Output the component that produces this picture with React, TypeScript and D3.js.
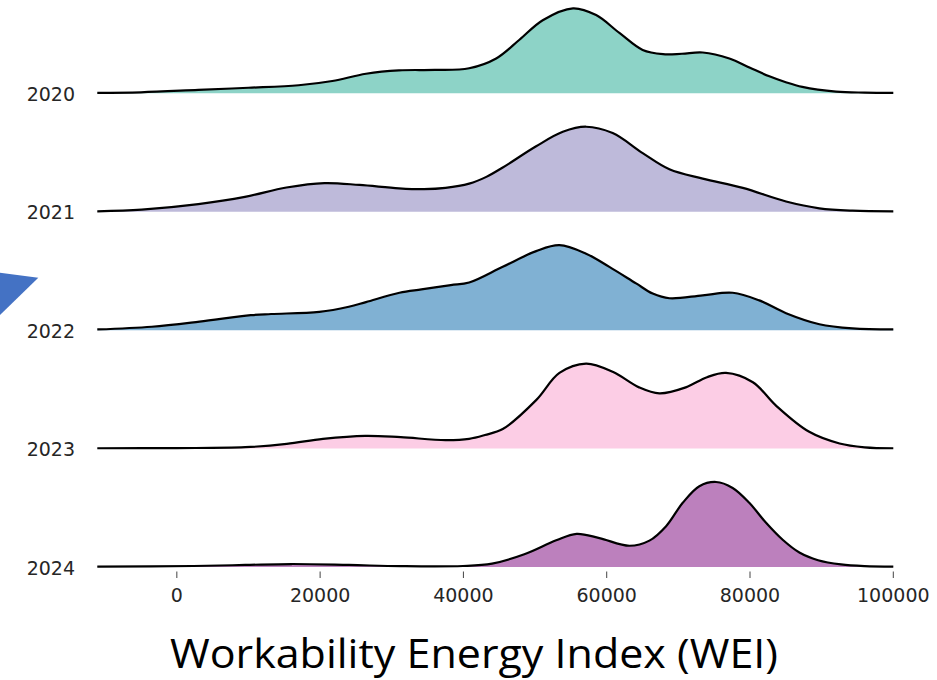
import React from "react";
import * as d3 from "d3";

const years = ["2020", "2021", "2022", "2023", "2024"];
const colors = ["#8dd3c7", "#bebada", "#80b1d3", "#fccde5", "#bc80bd"];
const xTicks = [0, 20000, 40000, 60000, 80000, 100000];
const xDomain = [-11100, 100000];
const axisTitle = "Workability Energy Index  (WEI)";

// [WEI value, relative density]
const d2020: [number, number][] = [
  [-11100, 0.005], [-5000, 0.012], [3000, 0.04], [10000, 0.065], [17000, 0.095],
  [21700, 0.145], [26400, 0.23], [31000, 0.27], [36000, 0.275], [40800, 0.295],
  [44570, 0.41], [47820, 0.63], [51070, 0.86], [55300, 1.0], [58520, 0.92],
  [61770, 0.71], [65020, 0.51], [67860, 0.46], [70500, 0.465], [73400, 0.48],
  [77120, 0.41], [80000, 0.3], [82700, 0.2], [85000, 0.13], [87300, 0.075],
  [92000, 0.02], [96000, 0.008], [100000, 0.005],
];
const d2021: [number, number][] = [
  [-11100, 0.005], [-4900, 0.025], [3000, 0.09], [9500, 0.175], [15300, 0.285],
  [20600, 0.337], [25500, 0.315], [31000, 0.275], [34500, 0.265], [37500, 0.28],
  [40800, 0.33], [43200, 0.41], [45490, 0.52], [50150, 0.77], [53870, 0.94],
  [57120, 1.0], [60830, 0.925], [65020, 0.69], [68750, 0.5], [73400, 0.39],
  [78990, 0.28], [85030, 0.12], [89680, 0.04], [94300, 0.012], [100000, 0.005],
];
const d2022: [number, number][] = [
  [-11100, 0.008], [-3500, 0.04], [3170, 0.1], [10330, 0.176], [13164, 0.19],
  [19880, 0.215], [24000, 0.275], [26400, 0.33], [31070, 0.44], [34140, 0.48],
  [38240, 0.53], [40800, 0.56], [45490, 0.745], [50150, 0.93], [53400, 1.0],
  [57120, 0.9], [60370, 0.745], [64100, 0.55], [66420, 0.43], [68750, 0.375],
  [73400, 0.41], [77580, 0.44], [81300, 0.35], [85030, 0.2], [89680, 0.07],
  [94300, 0.02], [100000, 0.008],
];
const d2023: [number, number][] = [
  [-11100, 0.004], [0, 0.006], [9548, 0.016], [15334, 0.055], [20397, 0.114],
  [26300, 0.15], [31246, 0.134], [37500, 0.1], [40800, 0.115], [43000, 0.16],
  [45490, 0.23], [50150, 0.57], [53400, 0.89], [57120, 1.0], [60902, 0.9],
  [64518, 0.72], [67350, 0.65], [71028, 0.72], [74000, 0.84], [76650, 0.89],
  [80400, 0.78], [83700, 0.5], [88200, 0.2], [92500, 0.06], [96000, 0.015],
  [100000, 0.004],
];
const d2024: [number, number][] = [
  [-11100, 0.004], [2315, 0.012], [9548, 0.024], [16000, 0.035], [24014, 0.024],
  [31246, 0.01], [39926, 0.012], [44000, 0.04], [48500, 0.15], [52946, 0.314],
  [55800, 0.39], [58980, 0.34], [63170, 0.25], [65960, 0.31], [68290, 0.48],
  [70610, 0.755], [72930, 0.95], [75260, 1.0], [77580, 0.93], [79900, 0.755],
  [82240, 0.52], [84560, 0.32], [86890, 0.17], [89500, 0.08], [92700, 0.03],
  [96000, 0.01], [100000, 0.004],
];
const densities = [d2020, d2021, d2022, d2023, d2024];

export default function App() {
  const W = 937;
  const H = 680;
  const x = d3.scaleLinear().domain(xDomain).range([97.3, 893.3]);
  const y = d3.scalePoint<string>().domain(years).range([93.3, 567]);
  const h = d3.scaleLinear().domain([0, 1]).range([0, 85]);
  const curve = d3.curveCatmullRom.alpha(0.5);

  return (
    <div style={{ position: "absolute", left: 0, top: 0 }}>
      <svg width={W} height={H} style={{ display: "block", background: "#fff" }}>
        <polygon points={`0,272.7 38.3,277.7 0,315`} fill="#4472c4" />
        {years.map((yr, i) => {
          const base = y(yr) as number;
          const area = d3
            .area<[number, number]>()
            .x((d) => x(d[0]))
            .y0(base)
            .y1((d) => base - h(Math.max(0, d[1])))
            .curve(curve);
          const line = d3
            .line<[number, number]>()
            .x((d) => x(d[0]))
            .y((d) => base - h(d[1]))
            .curve(curve);
          return (
            <g key={yr}>
              <path d={area(densities[i]) || ""} fill={colors[i]} />
              <path
                d={line(densities[i]) || ""}
                fill="none"
                stroke="#000"
                strokeWidth={2.2}
                strokeLinejoin="round"
                strokeLinecap="butt"
              />
              <text
                x={75}
                y={base + 7.5}
                textAnchor="end"
                fontFamily="DejaVu Sans"
                fontSize={19}
                fill="#262626"
              >
                {yr}
              </text>
            </g>
          );
        })}
        {xTicks.map((t) => (
          <g key={t}>
            <line x1={x(t)} x2={x(t)} y1={571.5} y2={578} stroke="#444" strokeWidth={1} />
            <text
              x={x(t)}
              y={601.5}
              textAnchor="middle"
              fontFamily="DejaVu Sans"
              fontSize={19}
              fill="#262626"
            >
              {t}
            </text>
          </g>
        ))}
        <text
          x={474}
          y={668}
          textAnchor="middle"
          fontFamily="Open Sans"
          fontSize={41}
          fill="#000"
          textLength={608}
          lengthAdjust="spacingAndGlyphs"
        >
          {axisTitle}
        </text>
      </svg>
    </div>
  );
}
